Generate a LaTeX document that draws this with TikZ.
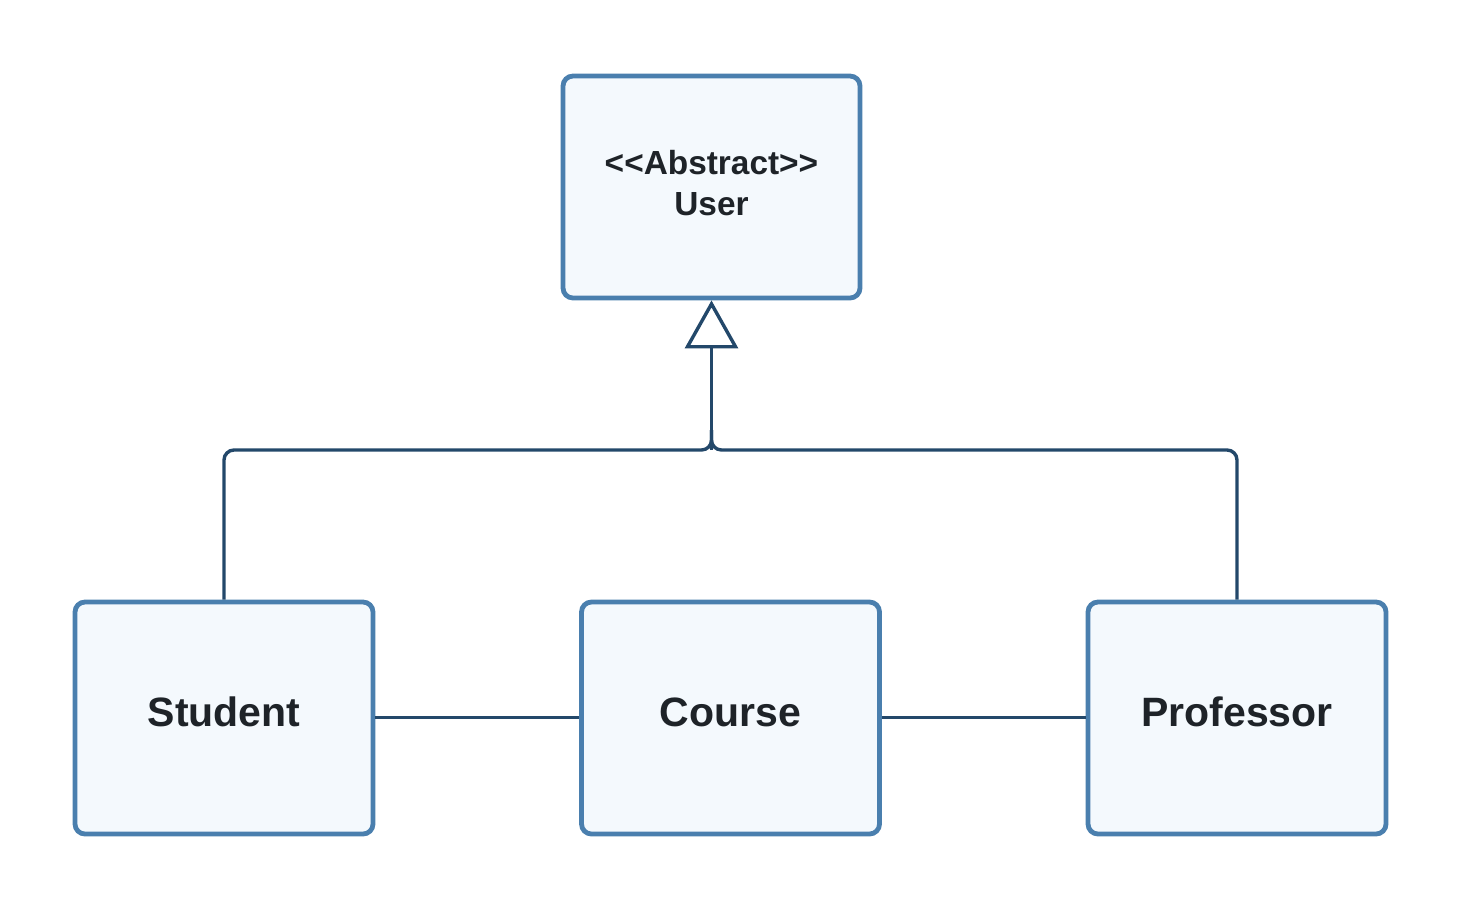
\documentclass[tikz,border=0pt]{standalone}
\usepackage{fontspec}
\setmainfont{Liberation Sans}
\usetikzlibrary{positioning,arrows.meta,calc}
\definecolor{boxline}{HTML}{4A7FAE}
\definecolor{boxfill}{HTML}{F4F9FD}
\definecolor{linkline}{HTML}{23486A}
\definecolor{labeltext}{HTML}{1E2328}

\begin{document}
\begin{tikzpicture}[
  x=0.5pt, y=-0.5pt,
  every node/.style={text=labeltext, font=\bfseries},
  class box/.style={draw=boxline, fill=boxfill, line width=2.4pt,
    rounded corners=5pt, inner sep=0pt,
    minimum width=149pt, minimum height=116pt,
    font=\fontsize{20.5}{24}\selectfont\bfseries,
    text height=15pt, text depth=6.5pt},
  link/.style={draw=linkline, line width=1.7pt},
  generalization/.style={link, -{Triangle[open, length=24pt, width=26.5pt, line width=1.7pt]}}
]
  \useasboundingbox (0,0) rectangle (1463,911);

  \node[class box, minimum width=148.5pt, minimum height=111pt,
        align=center, font=\fontsize{16.7}{20.5}\selectfont\bfseries,
        text height=, text depth=4pt] (user) at (711.5,187)
        {{<}{<}Abstract{>}{>}\\User};
  \node[class box] (student)   at (224,718)    {Student};
  \node[class box] (course)    at (730.5,718)  {Course};
  \node[class box] (professor) at (1237,718)   {Professor};

  \coordinate (junction) at (711.5,450);

  % inheritance
  \draw[generalization] (junction) -- (user.south);
  \draw[link, rounded corners=5pt] (student.north) |- (junction) -- ++(0,-20);
  \draw[link, rounded corners=5pt] (professor.north) |- (junction) -- ++(0,-20);

  % associations
  \draw[link] (student.east) ++(0,-0.5) -- ($(course.west)+(0,-0.5)$);
  \draw[link] ($(course.east)+(0,-0.5)$) -- ($(professor.west)+(0,-0.5)$);
\end{tikzpicture}
\end{document}
